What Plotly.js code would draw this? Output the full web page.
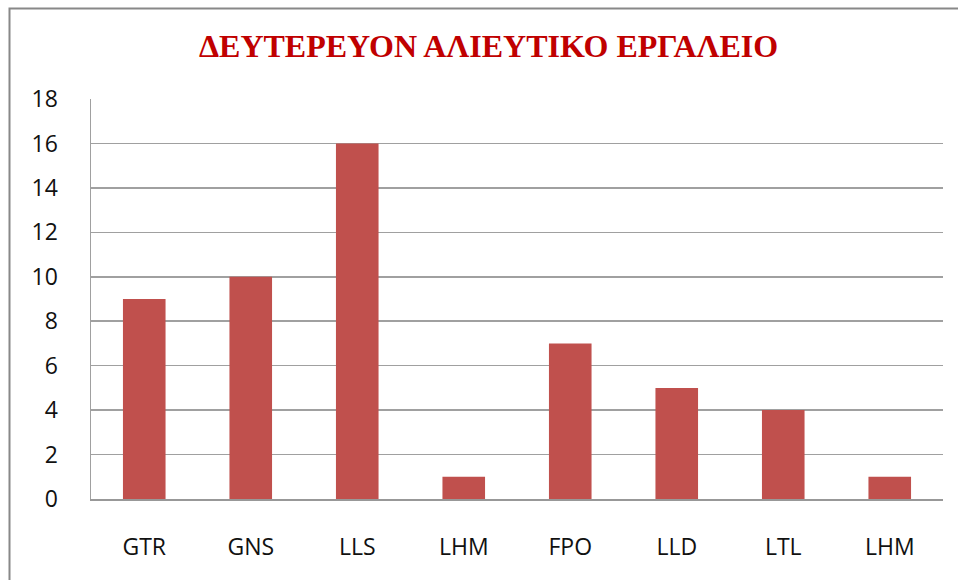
<!DOCTYPE html>
<html>
<head>
<meta charset="utf-8">
<script src="https://cdn.plot.ly/plotly-3.0.1.min.js"></script>
<style>
html,body{margin:0;padding:0;background:#fff;}
#chart{width:958px;height:580px;}
</style>
</head>
<body>
<div id="chart"></div>
<script>
const categories = ["GTR", "GNS", "LLS", "LHM", "FPO", "LLD", "LTL", "LHM"];
const values = [9, 10, 16, 1, 7, 5, 4, 1];
const yTicks = [0, 2, 4, 6, 8, 10, 12, 14, 16, 18];
const titleText = "ΔΕΥΤΕΡΕΥΟΝ ΑΛΙΕΥΤΙΚΟ ΕΡΓΑΛΕΙΟ";

const positions = categories.map((c, i) => i);
const W = 958, H = 580;
const m = {l: 91, r: 15, t: 99, b: 81};
const pw = W - m.l - m.r, ph = H - m.t - m.b;

const trace = {
  type: 'bar',
  x: positions,
  y: values,
  width: 0.4,
  marker: {color: '#C0504D', line: {width: 0}},
  hoverinfo: 'skip'
};

const layout = {
  width: W, height: H,
  margin: m,
  paper_bgcolor: '#ffffff',
  plot_bgcolor: '#ffffff',
  showlegend: false,
  title: {
    text: '<b>' + titleText + '</b>',
    font: {family: 'Liberation Serif', size: 32, color: '#C00000'},
    xref: 'container', x: 0.51, xanchor: 'center',
    yref: 'container', y: 1 - 46 / H, yanchor: 'middle'
  },
  xaxis: {
    range: [-0.5, 7.5],
    tickvals: positions,
    ticktext: categories,
    showgrid: false,
    zeroline: false,
    showline: true, linecolor: '#989898', linewidth: 1.5,
    ticks: '',
    ticklabelstandoff: 27,
    tickfont: {family: 'Open Sans, sans-serif', size: 23, color: '#111111'},
    fixedrange: true
  },
  yaxis: {
    range: [0, 18],
    tickvals: yTicks,
    showgrid: true, gridcolor: '#a0a0a0', gridwidth: 1.5,
    zeroline: false,
    showline: true, linecolor: '#a0a0a0', linewidth: 1.5,
    ticks: '',
    ticklabelstandoff: 27,
    tickfont: {family: 'Open Sans, sans-serif', size: 23, color: '#111111'},
    fixedrange: true
  },
  shapes: [{
    type: 'rect', xref: 'paper', yref: 'paper',
    x0: (9.5 - m.l) / pw, x1: (975 - m.l) / pw,
    y0: (H - m.b - 600) / ph, y1: (H - m.b - 8.5) / ph,
    line: {color: '#888888', width: 2}, fillcolor: 'rgba(0,0,0,0)', layer: 'above'
  }]
};

Plotly.newPlot('chart', [trace], layout, {displayModeBar: false, staticPlot: true});
</script>
</body>
</html>
